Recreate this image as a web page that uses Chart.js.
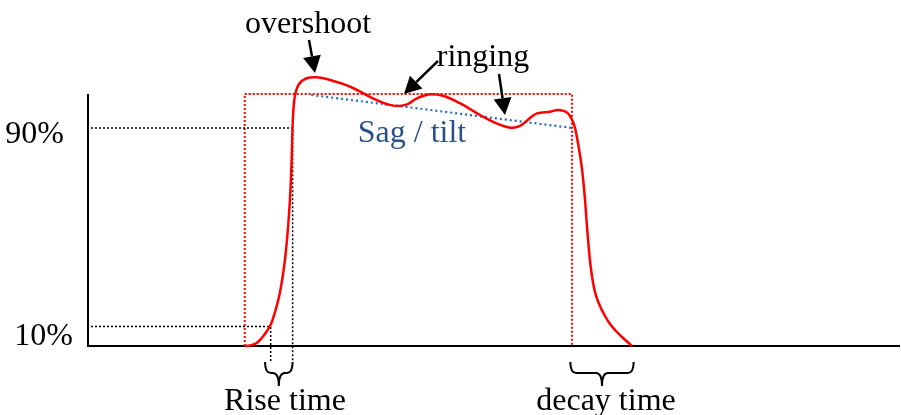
<!DOCTYPE html>
<html><head><meta charset="utf-8">
<script src="https://cdn.jsdelivr.net/npm/chart.js@4"></script>
<style>html,body{margin:0;padding:0;background:#fff;} canvas{display:block;}</style>
</head><body>
<canvas id="c" width="901" height="415"></canvas>
<script>
// time (arbitrary units) and signal level (% of ideal step)
const timeValues = [19.33,19.95,20.57,21.06,21.55,22.04,22.54,23.03,23.52,23.95,24.32,24.63,24.88,25.06,25.18,25.31,25.55,25.99,26.85,28.08,29.4,32.3,35.1,37.6,39.3,40.5,42.1,43.7,45.8,48.3,50.3,52.0,53.2,54.4,55.3,56.9,57.9,59.0,59.8,60.2,60.8,61.21,61.39,61.64,61.88,62.19,62.56,63.05,63.67,64.29,65.02,65.76,66.38,66.99];
const signalValues = [0,0.17,0.83,2.06,3.92,6.19,9.08,14.03,20.22,28.06,37.55,48.7,61.1,74.7,89.1,98.2,104.4,108.1,110.4,110.9,110.2,107.0,102.2,99.2,99.7,102.2,103.9,103.3,100.2,95.3,91.9,90.1,90.8,94.0,96.0,96.7,97.4,96.3,91.9,86.4,74.0,60.25,51.99,41.68,33.43,26.2,20.8,16.5,12.38,9.08,6.19,3.71,1.86,0];
const levelValues = [8, 90];
const levelLabels = ['10%', '90%'];
const idealEdges = [19.3, 59.6];   // ideal pulse start / end
const idealTop = 104;
const sagTimes = [27.5, 59.6];
const sagLevels = [103.6, 90.0];
const riseTimes = [22.5, 25.2];    // 10% / 90% crossing
const riseBrace = [21.8, 25.2];
const decayBrace = [59.4, 67.2];
const FONT = '32px "Liberation Serif", "Times New Roman", serif';

function arrow(ctx, x1, y1, x2, y2) {
  const a = Math.atan2(y2 - y1, x2 - x1), L = 17, W = 9;
  const bx = x2 - L * Math.cos(a), by = y2 - L * Math.sin(a);
  ctx.beginPath(); ctx.moveTo(x1, y1); ctx.lineTo(bx, by); ctx.stroke();
  ctx.beginPath();
  ctx.moveTo(x2, y2);
  ctx.lineTo(bx + W * Math.sin(a), by - W * Math.cos(a));
  ctx.lineTo(bx - W * Math.sin(a), by + W * Math.cos(a));
  ctx.closePath(); ctx.fill();
}
function brace(ctx, x1, x2, yTop, yMid, yTip) {
  const cx = (x1 + x2) / 2, r = Math.min(6, (x2 - x1) / 4);
  ctx.beginPath();
  ctx.moveTo(x1, yTop);
  ctx.quadraticCurveTo(x1, yMid, x1 + r, yMid);
  ctx.lineTo(cx - r, yMid);
  ctx.quadraticCurveTo(cx, yMid, cx, yTip);
  ctx.quadraticCurveTo(cx, yMid, cx + r, yMid);
  ctx.lineTo(x2 - r, yMid);
  ctx.quadraticCurveTo(x2, yMid, x2, yTop);
  ctx.stroke();
}

const annotations = {
  id: 'annotations',
  beforeDatasetsDraw(chart) {
    const ctx = chart.ctx, xs = chart.scales.x, ys = chart.scales.y, A = chart.chartArea;
    ctx.save();
    ctx.strokeStyle = '#000'; ctx.lineWidth = 2; ctx.setLineDash([]);
    ctx.beginPath();
    ctx.moveTo(A.left, A.top); ctx.lineTo(A.left, A.bottom); ctx.lineTo(A.right, A.bottom);
    ctx.stroke();
    const xa = xs.getPixelForValue(idealEdges[0]), xb = xs.getPixelForValue(idealEdges[1]);
    const yt = ys.getPixelForValue(idealTop), y0 = ys.getPixelForValue(0);
    ctx.strokeStyle = '#ff0000'; ctx.lineWidth = 2; ctx.setLineDash([2, 2]);
    ctx.beginPath();
    ctx.moveTo(xa, y0); ctx.lineTo(xa, yt); ctx.lineTo(xb, yt); ctx.lineTo(xb, y0);
    ctx.stroke();
    ctx.strokeStyle = '#1f6fc0'; ctx.lineWidth = 2.2; ctx.setLineDash([2, 3]);
    ctx.beginPath();
    ctx.moveTo(xs.getPixelForValue(sagTimes[0]), ys.getPixelForValue(sagLevels[0]));
    ctx.lineTo(xs.getPixelForValue(sagTimes[1]), ys.getPixelForValue(sagLevels[1]));
    ctx.stroke();
    ctx.strokeStyle = '#000'; ctx.lineWidth = 1.5; ctx.setLineDash([2, 2]);
    for (let i = 0; i < 2; i++) {
      const yl = ys.getPixelForValue(levelValues[i]);
      const xr = xs.getPixelForValue(riseTimes[i]);
      ctx.beginPath();
      ctx.moveTo(A.left + 3, yl); ctx.lineTo(xr, yl); ctx.lineTo(xr, y0 + 16);
      ctx.stroke();
    }
    ctx.restore();
  },
  afterDatasetsDraw(chart) {
    const ctx = chart.ctx, xs = chart.scales.x, ys = chart.scales.y, A = chart.chartArea;
    ctx.save();
    ctx.font = FONT; ctx.fillStyle = '#000'; ctx.textBaseline = 'alphabetic';
    ctx.textAlign = 'right';
    ctx.fillText(levelLabels[0], A.left - 15, ys.getPixelForValue(levelValues[0]) + 18);
    ctx.fillText(levelLabels[1], A.left - 24, ys.getPixelForValue(levelValues[1]) + 15);
    ctx.textAlign = 'center';
    ctx.fillText('overshoot', 308, 33);
    ctx.fillText('ringing', 483, 66);
    ctx.fillText('Rise time', 285, 410);
    ctx.fillText('decay time', 606, 410);
    ctx.fillStyle = '#2a5289';
    ctx.fillText('Sag / tilt', 412, 142);
    ctx.fillStyle = '#000'; ctx.strokeStyle = '#000'; ctx.lineWidth = 2.5; ctx.setLineDash([]);
    arrow(ctx, 309, 40, 315, 73);
    arrow(ctx, 438, 61, 404, 94);
    arrow(ctx, 499, 74, 505, 115);
    ctx.lineWidth = 2;
    const y0 = ys.getPixelForValue(0);
    brace(ctx, xs.getPixelForValue(riseBrace[0]), xs.getPixelForValue(riseBrace[1]), y0 + 16, y0 + 27, y0 + 40);
    brace(ctx, xs.getPixelForValue(decayBrace[0]), xs.getPixelForValue(decayBrace[1]), y0 + 16, y0 + 27, y0 + 40);
    ctx.restore();
  }
};

new Chart(document.getElementById('c'), {
  type: 'line',
  data: {
    datasets: [{
      data: timeValues.map((t, i) => ({ x: t, y: signalValues[i] })),
      borderColor: '#ff0000',
      borderWidth: 2.5,
      pointRadius: 0,
      tension: 0.4,
      fill: false,
      clip: false
    }]
  },
  options: {
    responsive: false,
    animation: false,
    events: [],
    layout: { padding: { left: 88, top: 94, right: 1, bottom: 69 } },
    plugins: { legend: { display: false }, tooltip: { enabled: false } },
    scales: {
      x: { type: 'linear', min: 0, max: 100, display: false },
      y: { type: 'linear', min: 0, max: 104, display: false }
    }
  },
  plugins: [annotations]
});
</script>
</body></html>
